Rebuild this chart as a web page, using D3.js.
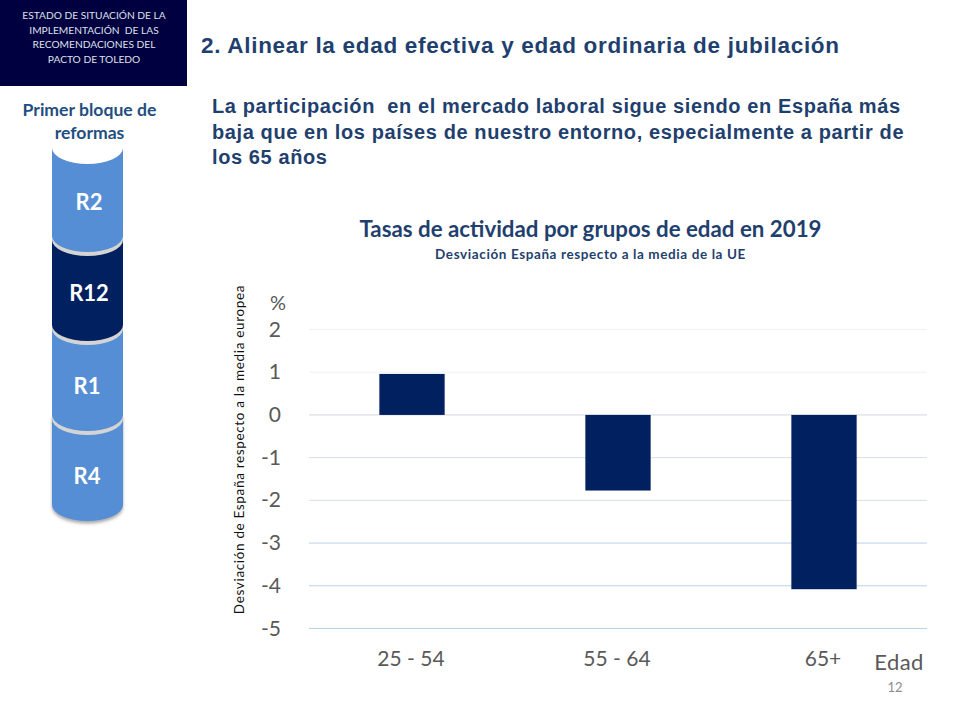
<!DOCTYPE html>
<html><head><meta charset="utf-8">
<script src="https://cdn.jsdelivr.net/npm/d3@7/dist/d3.min.js"></script>
<style>html,body{margin:0;padding:0;background:#fff}svg{display:block}</style>
</head><body><svg id="c" width="960" height="720"></svg>
<script>
const categories = ["25 - 54","55 - 64","65+"];
const values = [0.96,-1.77,-4.08];
const yTicks = [2,1,0,-1,-2,-3,-4,-5];
const headerLines = ["ESTADO DE SITUACIÓN DE LA","IMPLEMENTACIÓN  DE LAS","RECOMENDACIONES DEL","PACTO DE TOLEDO"];
const subLines = ["La participación  en el mercado laboral sigue siendo en España más","baja que en los países de nuestro entorno, especialmente a partir de","los 65 años"];
const stackLabels = ["R4","R1","R12","R2"];
const stackBottoms = [505,415,325,236];
const stackTops = [415,325,236,148];
const stackLabelY = [476,386,293,202];
const stackLabelX = [87,87,89,89];
const stackColors = ["#558ed5","#558ed5","#002060","#558ed5"];

const svg = d3.select("#c");
const CAL = "Lato, 'Open Sans', sans-serif";
const ARIAL = "'Liberation Sans', Arial, sans-serif";

svg.append("rect").attr("width",187).attr("height",86).attr("fill","#000040");
svg.append("g").selectAll("text").data(headerLines).join("text")
  .attr("x",94).attr("y",(d,i)=>19+i*14.5).attr("text-anchor","middle").style("white-space","pre")
  .attr("font-family",CAL).attr("font-size",10.2).attr("fill","#dfe0ea").text(d=>d);

svg.append("text").attr("x",201).attr("y",53).attr("font-family",ARIAL).attr("font-weight",700)
  .attr("font-size",22.5).attr("letter-spacing",0.7).attr("fill","#1f3f6e").text("2. Alinear la edad efectiva y edad ordinaria de jubilación");

svg.append("g").selectAll("text").data(subLines).join("text")
  .attr("x",212).attr("y",(d,i)=>113+i*25.5).attr("font-family",ARIAL).attr("font-weight",700).style("white-space","pre")
  .attr("font-size",20).attr("letter-spacing",0.6).attr("fill","#1f3f6e").text(d=>d);

// cylinders
const defs = svg.append("defs");
const f = defs.append("filter").attr("id","sh").attr("x","-20%").attr("y","-20%").attr("width","140%").attr("height","140%");
f.append("feDropShadow").attr("dx",0).attr("dy",2.5).attr("stdDeviation",1.5).attr("flood-color","#666").attr("flood-opacity",0.55);
const cx=87.5, rx=35.5, ry=16;
const cyl = svg.append("g");
const cylPath=(t,b)=>`M${cx-rx},${t} L${cx-rx},${b} A${rx},${ry} 0 0 0 ${cx+rx},${b} L${cx+rx},${t} Z`;
stackLabels.forEach((lab,i)=>{
  const t=stackTops[i], b=stackBottoms[i];
  if(i>0) cyl.append("path").attr("fill","#d4d4d4").attr("d",cylPath(t,b+4));
  const p=cyl.append("path").attr("fill",stackColors[i]).attr("d",cylPath(t,b));
  if(i===0) p.attr("filter","url(#sh)");
});
cyl.append("path").attr("fill","#fff")
  .attr("d",`M${cx-rx},${148} A${rx},${ry} 0 0 0 ${cx+rx},${148} L${cx+rx},${130} L${cx-rx},${130} Z`);
svg.append("g").selectAll("text").data(stackLabels).join("text")
  .attr("x",(d,i)=>stackLabelX[i]).attr("y",(d,i)=>stackLabelY[i]+8).attr("text-anchor","middle")
  .attr("font-family",CAL).attr("font-weight",700).attr("font-size",22).attr("fill","#fff").text(d=>d);

svg.append("g").selectAll("text").data(["Primer bloque de","reformas"]).join("text")
  .attr("x",89.5).attr("y",(d,i)=>116+i*23).attr("text-anchor","middle").attr("font-family",CAL)
  .attr("font-weight",700).attr("font-size",17.6).attr("fill","#1f4e80").text(d=>d);

svg.append("text").attr("x",590.5).attr("y",237).attr("text-anchor","middle").attr("font-family",CAL)
  .attr("font-weight",700).attr("font-size",22.3).attr("fill","#1f3f6e").text("Tasas de actividad por grupos de edad en 2019");
svg.append("text").attr("x",590.5).attr("y",259).attr("text-anchor","middle").attr("font-family",CAL)
  .attr("font-weight",700).attr("font-size",13.5).attr("letter-spacing",0.6).attr("fill","#1f3f6e").text("Desviación España respecto a la media de la UE");

// chart
const y = d3.scaleLinear().domain([-5,2]).range([628.5,329.5]);
const x = d3.scaleBand().domain(categories).range([309,927]).paddingInner(0.683).paddingOuter(0.3415);
const gridColor = d => d>=1 ? "#eef1f6" : d===0 ? "#d4d8de" : d>=-2 ? "#d3deea" : "#bcd2e8";
svg.append("g").selectAll("line").data(yTicks).join("line")
  .attr("x1",309).attr("x2",927).attr("y1",d=>y(d)).attr("y2",d=>y(d))
  .attr("stroke",gridColor).attr("stroke-width",1);
svg.append("g").selectAll("rect").data(values).join("rect")
  .attr("x",(d,i)=>x(categories[i])).attr("width",x.bandwidth())
  .attr("y",d=>y(Math.max(d,0))).attr("height",d=>Math.abs(y(d)-y(0))).attr("fill","#002060");
svg.append("g").selectAll("text").data(yTicks).join("text")
  .attr("x",281).attr("y",d=>y(d)+7).attr("text-anchor","end").attr("font-family",CAL)
  .attr("font-size",21).attr("fill","#595959").text(d=>d);
svg.append("g").selectAll("text").data(categories).join("text")
  .attr("x",d=>x(d)+x.bandwidth()/2-1).attr("y",666).attr("text-anchor","middle").attr("font-family",CAL)
  .attr("font-size",21).attr("fill","#595959").text(d=>d);
svg.append("text").attr("x",278).attr("y",310).attr("text-anchor","middle").attr("font-family",CAL)
  .attr("font-size",20).attr("fill","#595959").text("%");
svg.append("text").attr("x",899).attr("y",670).attr("text-anchor","middle").attr("font-family",CAL)
  .attr("font-size",22).attr("letter-spacing",0.4).attr("fill","#595959").text("Edad");
svg.append("text").attr("x",895).attr("y",692).attr("text-anchor","middle").attr("font-family",CAL)
  .attr("font-size",13).attr("fill","#8c8c8c").text("12");
svg.append("text").attr("transform","translate(244,449.5) rotate(-90)").attr("text-anchor","middle")
  .attr("font-family",CAL).attr("font-size",13.5).attr("letter-spacing",0.66).attr("fill","#111").text("Desviación de España respecto a la media europea");
</script></body></html>
